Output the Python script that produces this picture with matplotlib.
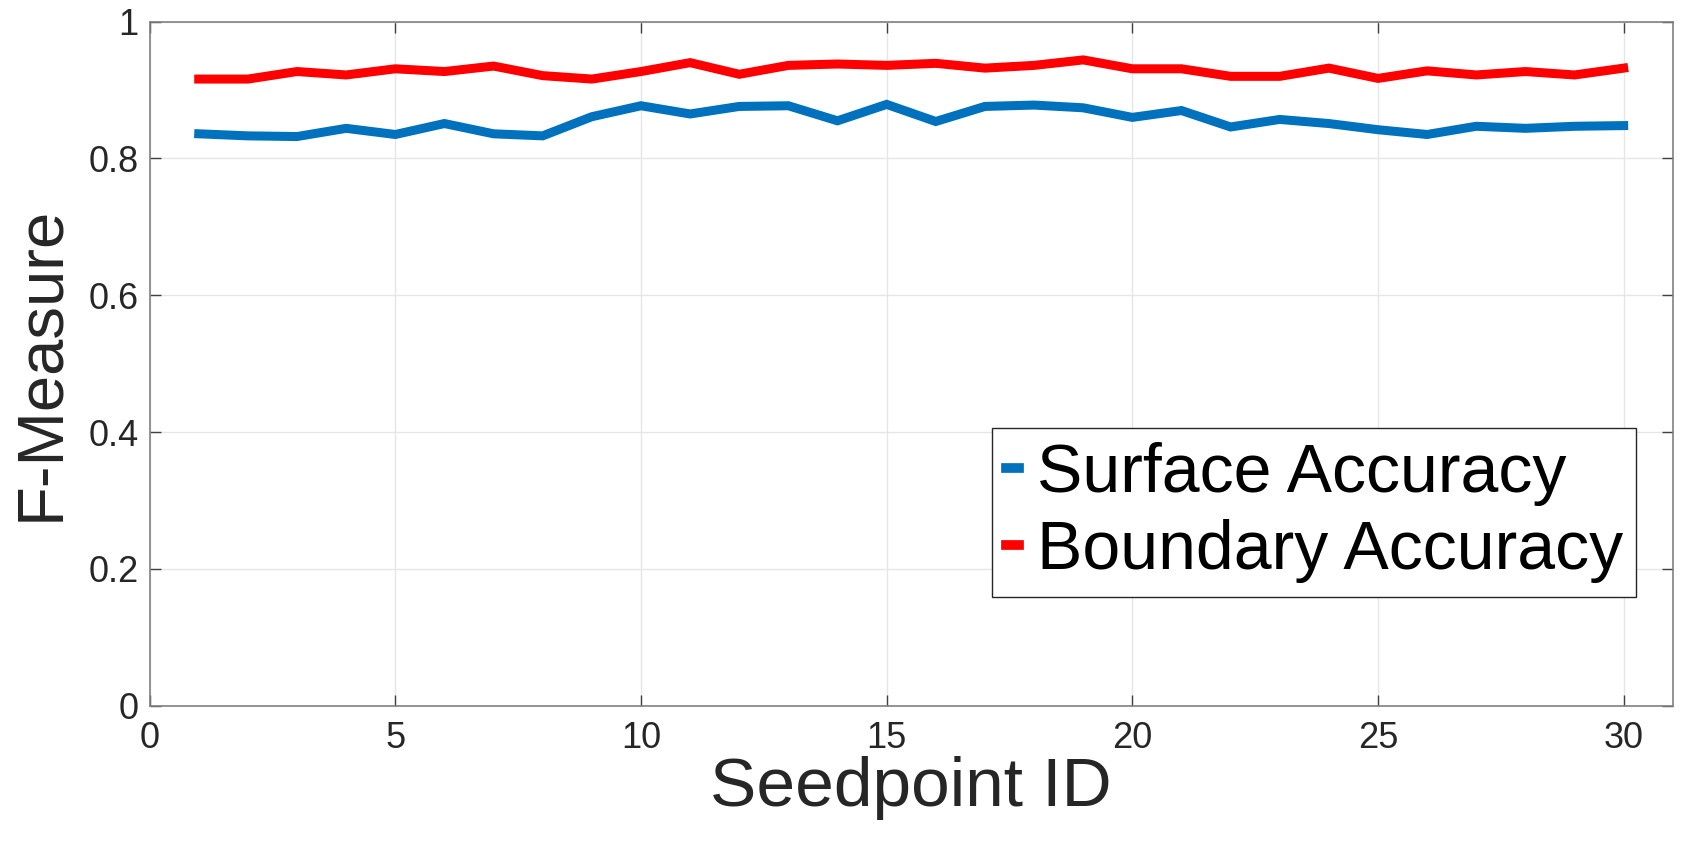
import numpy as np
import matplotlib
matplotlib.use("Agg")
from matplotlib import pyplot as plt

plt.rcParams['font.family'] = ['Liberation Sans', 'DejaVu Sans']

seedpoint_id = list(range(1, 31))

surface_accuracy = [
    0.836, 0.833, 0.832, 0.844, 0.835, 0.851, 0.836, 0.833, 0.861, 0.877,
    0.865, 0.876, 0.877, 0.855, 0.879, 0.854, 0.876, 0.878, 0.874, 0.860,
    0.870, 0.846, 0.857, 0.851, 0.842, 0.835, 0.847, 0.844, 0.847, 0.848,
]

boundary_accuracy = [
    0.916, 0.916, 0.927, 0.922, 0.931, 0.927, 0.935, 0.921, 0.916, 0.927,
    0.940, 0.923, 0.936, 0.938, 0.936, 0.939, 0.932, 0.936, 0.944, 0.931,
    0.931, 0.920, 0.920, 0.932, 0.917, 0.928, 0.922, 0.927, 0.922, 0.932,
]

x_ticks = [0, 5, 10, 15, 20, 25, 30]
y_ticks = [0, 0.2, 0.4, 0.6, 0.8, 1]
y_tick_labels = ["0", "0.2", "0.4", "0.6", "0.8", "1"]

fig = plt.figure(figsize=(17, 8.5), dpi=100)
ax = fig.add_axes([0.088, 0.1696, 0.896, 0.805])

azul = (0, 0.447, 0.741)
vermelho = (1, 0, 0)

ax.plot(seedpoint_id, surface_accuracy, color=azul, linewidth=6.5,
        label="Surface Accuracy", solid_joinstyle='miter')
ax.plot(seedpoint_id, boundary_accuracy, color=vermelho, linewidth=6.5,
        label="Boundary Accuracy", solid_joinstyle='miter')

ax.set_xlim(0, 31)
ax.set_ylim(0, 1)
ax.set_xticks(x_ticks)
ax.set_yticks(y_ticks)
ax.set_yticklabels(y_tick_labels)

ax.grid(True, color='#e6e6e6', linewidth=1)
ax.set_axisbelow(True)
for lado in ax.spines.values():
    lado.set_color('#808080')
    lado.set_linewidth(1.2)

ax.tick_params(axis='both', direction='in', length=8, width=1, color='#404040',
               labelsize=26, top=True, right=True, labelcolor='#262626')
ax.tick_params(axis='x', pad=11)
ax.tick_params(axis='y', pad=8)

ax.set_xlabel("Seedpoint ID", fontsize=50, color='#262626', labelpad=0)
ax.set_ylabel("F-Measure", fontsize=47, color='#262626', labelpad=12)

leg = ax.legend(loc='upper right', bbox_to_anchor=(0.976, 0.406),
                borderaxespad=0, fontsize=49, handlelength=0.2,
                handletextpad=0.25, borderpad=0.2, labelspacing=0.2,
                fancybox=False, framealpha=1, edgecolor='#262626')
leg.get_frame().set_linewidth(1.0)
for linha in leg.get_lines():
    linha.set_linewidth(7)

fig.savefig("out.png", dpi=100)
